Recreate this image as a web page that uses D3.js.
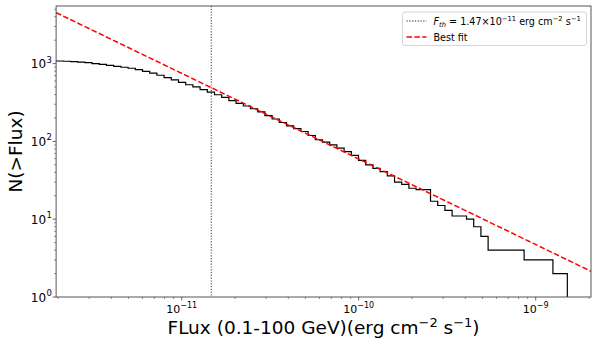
<!DOCTYPE html>
<html><head><meta charset="utf-8">
<script src="https://cdn.jsdelivr.net/npm/d3@7"></script>
<style>body{margin:0;background:#fff}svg{display:block}text{font-family:"DejaVu Sans",sans-serif}</style>
</head><body><svg id="c" width="598" height="349"></svg>
<script>
// Histogram bin edges (flux, erg cm^-2 s^-1) of the cumulative source counts
const fluxEdges = [1.951e-12,2.143e-12,2.353e-12,2.584e-12,2.838e-12,3.116e-12,3.422e-12,3.758e-12,4.127e-12,4.533e-12,
4.978e-12,5.467e-12,6.003e-12,6.593e-12,7.240e-12,7.951e-12,8.732e-12,9.590e-12,1.0531e-11,1.1566e-11,
1.2701e-11,1.3949e-11,1.5319e-11,1.6823e-11,1.8475e-11,2.0289e-11,2.2282e-11,2.4470e-11,2.6873e-11,2.9512e-11,
3.2410e-11,3.5593e-11,3.9088e-11,4.2927e-11,4.7142e-11,5.1772e-11,5.6856e-11,6.2439e-11,6.8571e-11,7.5304e-11,
8.2699e-11,9.0820e-11,9.9739e-11,1.0953e-10,1.2029e-10,1.3210e-10,1.4507e-10,1.5932e-10,1.7496e-10,1.9214e-10,
2.1101e-10,2.3173e-10,2.5449e-10,2.7948e-10,3.0692e-10,3.3706e-10,3.7016e-10,4.0651e-10,4.4643e-10,4.9027e-10,
5.3842e-10,5.9129e-10,6.4935e-10,7.1312e-10,7.8315e-10,8.6005e-10,9.4451e-10,1.0373e-9,1.1391e-9,1.2510e-9,
1.3738e-9,1.5087e-9];
// N(>Flux) in each bin
const cumCounts = [1080,1072,1060,1047,1028,1000,978,950,922,897,
871,836,794,753,708,661,617,573,535,501,
462,429,398,367,335,309,285,263,239,215,
194,175,158,146,134,119,105,98,90,82,
74,66,57,50,45,41,36,30,28,25,
24,24,17,15,13,11,11,10,8,6,
4,4,4,4,4,3,3,3,3,2,2];
// Best-fit power law: N(>S) = fitNorm * (S / fluxThreshold)^(-fitIndex)
const fluxThreshold = 1.47e-11;
const fitNorm = 490;
const fitIndex = 1.1;
const fitFlux = [1.951e-12, 2.053e-9];
const xTicks = [1e-11, 1e-10, 1e-9];
const xTickExp = ["\u221211", "\u221210", "\u22129"];
const yTicks = [1, 10, 100, 1000];
const yTickExp = ["0", "1", "2", "3"];

const W = 598, H = 349;
const m = {l: 56.1, r: 7, t: 6, b: 52};
const iw = W - m.l - m.r, ih = H - m.t - m.b;
const svg = d3.select("#c");
const g = svg.append("g").attr("transform", `translate(${m.l},${m.t})`);
const x = d3.scaleLog().domain([1.951e-12, 2.053e-9]).range([0, iw]);
const y = d3.scaleLog().domain([1, 5500]).range([ih, 0]);

svg.append("defs").append("clipPath").attr("id", "clip").append("rect").attr("width", iw).attr("height", ih);
const plot = g.append("g").attr("clip-path", "url(#clip)");

// threshold line
plot.append("line").attr("x1", x(fluxThreshold)).attr("x2", x(fluxThreshold)).attr("y1", 0).attr("y2", ih)
  .attr("stroke", "#666").attr("stroke-width", 1.3).attr("stroke-dasharray", "1.2,1.6");

// step curve
const pts = cumCounts.map((n, i) => [fluxEdges[i], n]);
pts.push([fluxEdges[fluxEdges.length - 1], cumCounts[cumCounts.length - 1]]);
const stepLine = d3.line().x(d => x(d[0])).y(d => d[1] <= 0 ? ih + 2 : y(d[1])).curve(d3.curveStepAfter);
const lastPts = pts.concat([[fluxEdges[fluxEdges.length - 1], 0]]);
plot.append("path").attr("d", stepLine(lastPts)).attr("fill", "none").attr("stroke", "#000").attr("stroke-width", 1.2);

// best fit
const fitPts = fitFlux.map(s => [s, fitNorm * Math.pow(s / fluxThreshold, -fitIndex)]);
plot.append("path").attr("d", d3.line().x(d => x(d[0])).y(d => y(d[1]))(fitPts))
  .attr("fill", "none").attr("stroke", "#ff0000").attr("stroke-width", 1.5).attr("stroke-dasharray", "5.5,2.4");

// axes
const frameColor = "#444";
function minorTicks(domain) {
  const out = [];
  const lo = Math.floor(Math.log10(domain[0])), hi = Math.ceil(Math.log10(domain[1]));
  for (let e = lo; e <= hi; e++) for (let k = 2; k <= 9; k++) {
    const v = k * Math.pow(10, e);
    if (v >= domain[0] && v <= domain[1]) out.push(v);
  }
  return out;
}
const ax = g.append("g").attr("transform", `translate(0,${ih})`);
minorTicks(x.domain()).forEach(v => ax.append("line").attr("x1", x(v)).attr("x2", x(v)).attr("y1", 0).attr("y2", 2).attr("stroke", frameColor).attr("stroke-width", 0.6));
xTicks.forEach((v, i) => {
  ax.append("line").attr("x1", x(v)).attr("x2", x(v)).attr("y1", 0).attr("y2", 3.5).attr("stroke", frameColor).attr("stroke-width", 0.8);
  const t = ax.append("text").attr("x", x(v)).attr("y", 15.5).attr("text-anchor", "middle").attr("font-size", 11).attr("fill", "#000");
  t.append("tspan").text("10");
  t.append("tspan").attr("dy", -5).attr("font-size", 8).text(xTickExp[i]);
});
const ay = g.append("g");
minorTicks(y.domain()).forEach(v => ay.append("line").attr("x1", 0).attr("x2", -2).attr("y1", y(v)).attr("y2", y(v)).attr("stroke", frameColor).attr("stroke-width", 0.6));
yTicks.forEach((v, i) => {
  ay.append("line").attr("x1", 0).attr("x2", -3.5).attr("y1", y(v)).attr("y2", y(v)).attr("stroke", frameColor).attr("stroke-width", 0.8);
  ay.append("text").attr("x", -10).attr("y", y(v) + 4.5).attr("text-anchor", "end").attr("font-size", 12).attr("fill", "#000").text("10");
  ay.append("text").attr("x", -9.5).attr("y", y(v) - 1).attr("text-anchor", "start").attr("font-size", 8.5).attr("fill", "#000").text(yTickExp[i]);
});
g.append("rect").attr("width", iw).attr("height", ih).attr("fill", "none").attr("stroke", frameColor).attr("stroke-width", 0.9);

// axis labels
const xl = svg.append("text").attr("x", m.l + iw / 2).attr("y", 334).attr("text-anchor", "middle").attr("font-size", 18.5).attr("fill", "#000");
xl.append("tspan").text("FLux (0.1-100 GeV)(erg cm");
xl.append("tspan").attr("dy", -7).attr("font-size", 13).text("\u22122");
xl.append("tspan").attr("dy", 7).text(" s");
xl.append("tspan").attr("dy", -7).attr("font-size", 13).text("\u22121");
xl.append("tspan").attr("dy", 7).text(")");
svg.append("text").attr("transform", `translate(22,${m.t + ih / 2}) rotate(-90)`).attr("text-anchor", "middle")
  .attr("font-size", 18.5).attr("fill", "#000").text("N(>Flux)");

// legend
const lg = svg.append("g").attr("transform", "translate(402.5,12)");
lg.append("rect").attr("width", 184).attr("height", 33.5).attr("rx", 2.5).attr("fill", "#fff").attr("fill-opacity", 0.8).attr("stroke", "#ccc").attr("stroke-width", 0.8);
lg.append("line").attr("x1", 4).attr("x2", 24).attr("y1", 9).attr("y2", 9).attr("stroke", "#666").attr("stroke-width", 1.3).attr("stroke-dasharray", "1.2,1.6");
lg.append("line").attr("x1", 4).attr("x2", 24).attr("y1", 25).attr("y2", 25).attr("stroke", "#ff0000").attr("stroke-width", 1.5).attr("stroke-dasharray", "5.5,2.4");
const t1 = lg.append("text").attr("x", 31).attr("y", 12.5).attr("font-size", 9.6).attr("fill", "#000");
t1.append("tspan").attr("font-style", "italic").text("F");
t1.append("tspan").attr("font-style", "italic").attr("font-size", 6.8).attr("dy", 2).text("th");
t1.append("tspan").attr("dy", -2).text(" = 1.47\u00d710");
t1.append("tspan").attr("dy", -4).attr("font-size", 6.8).text("\u221211");
t1.append("tspan").attr("dy", 4).text(" erg cm");
t1.append("tspan").attr("dy", -4).attr("font-size", 6.8).text("\u22122");
t1.append("tspan").attr("dy", 4).text(" s");
t1.append("tspan").attr("dy", -4).attr("font-size", 6.8).text("\u22121");
lg.append("text").attr("x", 31).attr("y", 28.5).attr("font-size", 9.6).attr("fill", "#000").text("Best fit");
</script></body></html>
